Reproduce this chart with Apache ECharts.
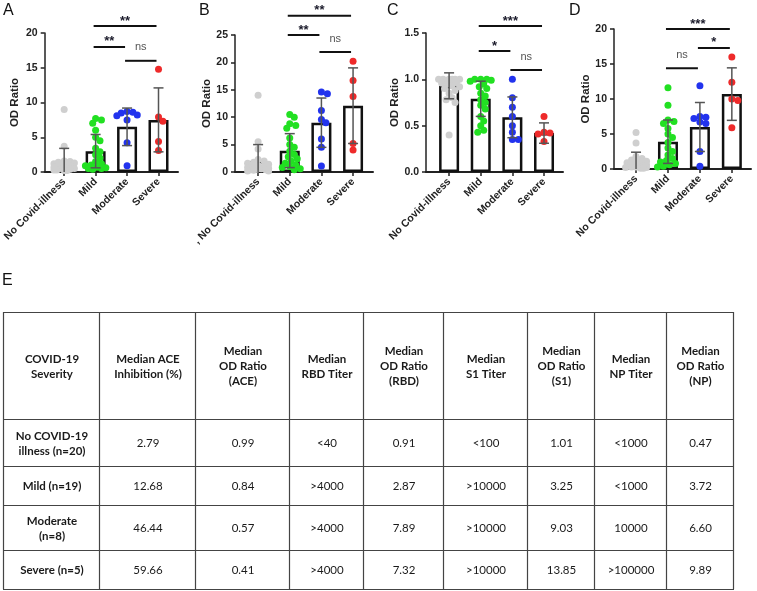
<!DOCTYPE html>
<html><head><meta charset="utf-8">
<script src="https://cdn.jsdelivr.net/npm/echarts@6/dist/echarts.min.js"></script>
<style>html,body{margin:0;padding:0;background:#fff}#c{width:757px;height:591px}</style>
</head><body><div id="c"></div>
<script>
// ---------- data ----------
const categories = ['No Covid-illness', 'Mild', 'Moderate', 'Severe'];
const categoriesB = [', No Covid-illness', 'Mild', 'Moderate', 'Severe'];
const groupColors = ['#cfcfcf', '#22e022', '#2233ee', '#ee2a2a'];

// Panel A
const A_none = [9.0, 3.7, 1.6, 1.5, 1.4, 1.3, 1.2, 1.1, 1.0, 0.9, 0.8, 0.7, 0.6, 0.5, 0.5, 0.4, 0.3, 0.3, 0.2, 0.2];
const A_mild = [7.7, 7.5, 7.0, 6.0, 5.0, 4.5, 3.4, 2.9, 2.5, 2.0, 1.5, 1.2, 1.0, 0.9, 0.7, 0.6, 0.5, 0.5, 0.4];
const A_moderate = [8.7, 8.6, 8.5, 8.2, 8.1, 7.5, 4.2, 0.9];
const A_severe = [14.8, 7.9, 7.3, 4.4, 3.1];
const A_mean = [1.5, 3.0, 6.5, 7.5];
const A_sd = [1.9, 2.4, 2.7, 4.6];
const A_sig = [[1, 3, 21.0, '**'], [1, 2, 18.0, '**'], [2, 3, 16.0, 'ns']];

// Panel B
const B_none = [14.0, 5.5, 4.2, 2.3, 2.0, 1.8, 1.6, 1.4, 1.2, 1.0, 0.9, 0.8, 0.7, 0.6, 0.5, 0.4, 0.4, 0.3, 0.2, 0.2];
const B_mild = [10.5, 10.0, 8.8, 8.5, 8.0, 6.2, 5.0, 4.5, 3.8, 3.2, 2.8, 2.4, 2.0, 1.6, 1.3, 1.0, 0.8, 0.6, 0.4];
const B_moderate = [14.6, 14.3, 11.2, 9.6, 9.0, 6.0, 4.5, 1.1];
const B_severe = [20.2, 16.7, 13.8, 5.2, 4.0];
const B_mean = [2.0, 3.9, 9.0, 12.1];
const B_sd = [3.0, 3.1, 4.5, 6.9];
const B_sig = [[1, 3, 28.5, '**'], [1, 2, 25.0, '**'], [2, 3, 21.9, 'ns']];

// Panel C
const C_none = [1.0, 1.0, 1.0, 1.0, 1.0, 1.0, 0.99, 0.98, 0.97, 0.96, 0.95, 0.93, 0.92, 0.9, 0.88, 0.85, 0.8, 0.78, 0.75, 0.4];
const C_mild = [1.0, 1.0, 1.0, 0.99, 0.98, 0.95, 0.92, 0.9, 0.85, 0.82, 0.78, 0.75, 0.72, 0.68, 0.6, 0.55, 0.5, 0.45, 0.43];
const C_moderate = [1.0, 0.8, 0.7, 0.6, 0.5, 0.43, 0.35, 0.35];
const C_severe = [0.6, 0.43, 0.42, 0.41, 0.33];
const C_mean = [0.93, 0.79, 0.59, 0.42];
const C_sd = [0.14, 0.19, 0.22, 0.11];
const C_sig = [[1, 3, 1.575, '***'], [1, 2, 1.306, '*'], [2, 3, 1.10, 'ns']];

// Panel D
const D_none = [5.2, 3.7, 1.8, 1.5, 1.3, 1.1, 1.0, 0.9, 0.8, 0.7, 0.6, 0.5, 0.4, 0.4, 0.3, 0.3, 0.2, 0.2, 0.1, 0.1];
const D_mild = [11.6, 9.1, 7.0, 6.8, 6.5, 5.8, 5.0, 4.5, 3.8, 3.0, 2.5, 2.0, 1.5, 1.2, 1.0, 0.8, 0.6, 0.4, 0.3];
const D_moderate = [11.9, 7.5, 7.4, 7.2, 6.7, 6.5, 2.5, 0.4];
const D_severe = [16.0, 12.4, 10.0, 9.8, 5.9];
const D_mean = [1.0, 3.9, 6.0, 10.7];
const D_sd = [1.4, 3.1, 3.5, 3.75];
const D_sig = [[1, 3, 20.0, '***'], [2, 3, 17.3, '*'], [1, 2, 14.4, 'ns']];

const yMaxA = 20, yMaxB = 25, yMaxC = 1.5, yMaxD = 20;
const yStepA = 5, yStepB = 5, yStepC = 0.5, yStepD = 5;

// Table E
const tableHeader = ['COVID-19\nSeverity', 'Median ACE\nInhibition (%)', 'Median\nOD Ratio\n(ACE)', 'Median\nRBD Titer',
  'Median\nOD Ratio\n(RBD)', 'Median\nS1 Titer', 'Median\nOD Ratio\n(S1)', 'Median\nNP Titer', 'Median\nOD Ratio\n(NP)'];
const tableRowLabels = ['No COVID-19\nillness (n=20)', 'Mild (n=19)', 'Moderate\n(n=8)', 'Severe (n=5)'];
const tableRows = [
  ['2.79', '0.99', '<40', '0.91', '<100', '1.01', '<1000', '0.47'],
  ['12.68', '0.84', '>4000', '2.87', '>10000', '3.25', '<1000', '3.72'],
  ['46.44', '0.57', '>4000', '7.89', '>10000', '9.03', '10000', '6.60'],
  ['59.66', '0.41', '>4000', '7.32', '>10000', '13.85', '>100000', '9.89']
];

// ---------- layout ----------
const panels = [
  { letter: 'A', lx: 3, groups: [A_none, A_mild, A_moderate, A_severe], mean: A_mean, sd: A_sd, sig: A_sig, yMax: yMaxA, yStep: yStepA, cats: categories,
    left: 41, top: 33, width: 137, height: 139, xMin: -0.62, xMax: 3.62, nameGap: 24, dec: 0 },
  { letter: 'B', lx: 199, groups: [B_none, B_mild, B_moderate, B_severe], mean: B_mean, sd: B_sd, sig: B_sig, yMax: yMaxB, yStep: yStepB, cats: categoriesB,
    left: 235, top: 35, width: 138, height: 137, xMin: -0.73, xMax: 3.63, nameGap: 22, dec: 0 },
  { letter: 'C', lx: 387, groups: [C_none, C_mild, C_moderate, C_severe], mean: C_mean, sd: C_sd, sig: C_sig, yMax: yMaxC, yStep: yStepC, cats: categories,
    left: 426, top: 33, width: 137, height: 139, xMin: -0.73, xMax: 3.6, nameGap: 25, dec: 1 },
  { letter: 'D', lx: 569, groups: [D_none, D_mild, D_moderate, D_severe], mean: D_mean, sd: D_sd, sig: D_sig, yMax: yMaxD, yStep: yStepD, cats: categories,
    left: 614, top: 29, width: 137, height: 140, xMin: -0.69, xMax: 3.6, nameGap: 21, dec: 0 }
];

// compact beeswarm offsets (pixel-based, limited width), returned in x data units
function swarm(vals, pxPerY, pxPerX) {
  const d = 5.2, step = 1.5, maxDx = 10.5;
  const cands = [0];
  for (let k = 1; k * step <= maxDx; k++) { cands.push(k * step, -k * step); }
  const order = vals.map((v, i) => i).sort((a, b) => vals[b] - vals[a]);
  const placed = [], off = new Array(vals.length);
  for (const i of order) {
    const y = vals[i] * pxPerY;
    let best = 0, bestD = -1;
    for (const dx of cands) {
      const md = placed.reduce((m, p) => Math.min(m, Math.hypot(p.x - dx, p.y - y)), Infinity);
      if (md >= d) { best = dx; bestD = md; break; }
      if (md > bestD) { bestD = md; best = dx; }
    }
    placed.push({ x: best, y: y });
    off[i] = best / pxPerX;
  }
  return off;
}

const font = 'Liberation Sans, Arial, sans-serif';
const grids = [], xAxes = [], yAxes = [], series = [], graphics = [];

panels.forEach((p, i) => {
  grids.push({ left: p.left, top: p.top, width: p.width, height: p.height });
  xAxes.push({
    type: 'value', gridIndex: i, min: p.xMin, max: p.xMax, splitLine: { show: false },
    axisLine: { show: true, onZero: false, lineStyle: { color: '#222', width: 2 } },
    axisTick: { show: true, customValues: [0, 1, 2, 3], length: 4, lineStyle: { color: '#222', width: 1.5 } },
    axisLabel: { customValues: [0, 1, 2, 3], formatter: v => p.cats[Math.round(v)], rotate: 45, fontSize: 10.5,
      fontWeight: 'bold', color: '#222', margin: 8, fontFamily: font }
  });
  yAxes.push({
    type: 'value', gridIndex: i, min: 0, max: p.yMax, interval: p.yStep, splitLine: { show: false },
    axisLine: { show: true, onZero: false, lineStyle: { color: '#222', width: 1.5 } },
    axisTick: { show: true, length: 4, lineStyle: { color: '#222', width: 1.5 } },
    axisLabel: { fontSize: 10.5, fontWeight: 'bold', color: '#222', margin: 7, fontFamily: font,
      formatter: v => v.toFixed(p.dec) },
    name: 'OD Ratio', nameLocation: 'middle', nameGap: p.nameGap,
    nameTextStyle: { fontSize: 11.5, fontWeight: 'bold', color: '#222', fontFamily: font }
  });
  // bars (means)
  series.push({
    type: 'bar', xAxisIndex: i, yAxisIndex: i, barWidth: 20, z: 2, silent: true,
    data: p.mean.map((m, k) => [k, m]),
    itemStyle: { color: '#fff', borderColor: '#111', borderWidth: 2.5 }
  });
  // scatter points
  const pxPerY = p.height / p.yMax, pxPerX = p.width / (p.xMax - p.xMin);
  p.groups.forEach((g, k) => {
    const off = swarm(g, pxPerY, pxPerX);
    series.push({
      type: 'scatter', xAxisIndex: i, yAxisIndex: i, z: 3, silent: true, symbolSize: 7,
      itemStyle: { color: groupColors[k], opacity: 1 },
      data: g.map((v, j) => [k + off[j], v])
    });
  });
  // error bars (mean ± SD)
  series.push({
    type: 'custom', xAxisIndex: i, yAxisIndex: i, z: 4, silent: true,
    data: p.mean.map((m, k) => [k, m - p.sd[k], m + p.sd[k]]),
    encode: { x: 0, y: [1, 2] },
    renderItem: (params, api) => {
      const x = api.value(0), lo = api.value(1), hi = api.value(2);
      const a = api.coord([x, Math.max(0, lo)]), b = api.coord([x, hi]);
      const ls = { stroke: '#555', lineWidth: 1.5 };
      const ch = [
        { type: 'line', shape: { x1: a[0], y1: a[1], x2: b[0], y2: b[1] }, style: ls },
        { type: 'line', shape: { x1: b[0] - 5, y1: b[1], x2: b[0] + 5, y2: b[1] }, style: ls }
      ];
      if (lo > 0) ch.push({ type: 'line', shape: { x1: a[0] - 5, y1: a[1], x2: a[0] + 5, y2: a[1] }, style: ls });
      return { type: 'group', children: ch };
    }
  });
  // significance brackets
  series.push({
    type: 'custom', xAxisIndex: i, yAxisIndex: i, z: 5, silent: true, clip: false,
    data: p.sig.map(s => [s[0], s[1], s[2]]),
    encode: { x: [0, 1], y: 2 },
    renderItem: (params, api) => {
      const s = p.sig[params.dataIndex];
      const a = api.coord([s[0], s[2]]), b = api.coord([s[1], s[2]]);
      const isNs = s[3] === 'ns';
      return { type: 'group', children: [
        { type: 'line', shape: { x1: a[0] - 2, y1: a[1], x2: b[0] - 2, y2: b[1] }, style: { stroke: '#111', lineWidth: 2 } },
        { type: 'text', style: { text: s[3], x: (a[0] + b[0]) / 2 - 2, y: a[1] - (isNs ? 8 : 5),
          align: 'center', verticalAlign: isNs ? 'bottom' : 'middle',
          fontSize: isNs ? 11 : 13, fontWeight: isNs ? 'normal' : 'bold', fill: isNs ? '#555' : '#1a1a2a', fontFamily: font } }
      ] };
    }
  });
  graphics.push({ type: 'text', left: p.lx, top: 3, style: { text: p.letter, fontSize: 16, fill: '#111', fontFamily: font } });
});

// ---------- table E ----------
const colX = [3, 99, 195, 289, 363, 443, 527, 594, 666, 733];
const rowY = [312, 419, 466, 505, 550, 589];
graphics.push({ type: 'text', left: 2, top: 273, style: { text: 'E', fontSize: 16, fill: '#111', fontFamily: font } });
const tFont = 'Lato, Carlito, sans-serif';
colX.forEach(x => graphics.push({ type: 'line', shape: { x1: x + 0.5, y1: rowY[0], x2: x + 0.5, y2: rowY[rowY.length - 1] },
  style: { stroke: '#444', lineWidth: 1.2 } }));
rowY.forEach(y => graphics.push({ type: 'line', shape: { x1: colX[0], y1: y + 0.5, x2: colX[colX.length - 1] + 1, y2: y + 0.5 },
  style: { stroke: '#444', lineWidth: 1.2 } }));
function cellText(txt, c, r, bold) {
  graphics.push({ type: 'text', style: { text: txt, x: (colX[c] + colX[c + 1]) / 2 + 1, y: (rowY[r] + rowY[r + 1]) / 2 + 1,
    align: 'center', verticalAlign: 'middle', fontSize: 11.5, lineHeight: 15, fontWeight: bold ? 'bold' : 'normal',
    fill: '#1a1a1a', fontFamily: tFont } });
}
tableHeader.forEach((h, c) => cellText(h, c, 0, true));
tableRowLabels.forEach((l, r) => cellText(l, 0, r + 1, true));
tableRows.forEach((row, r) => row.forEach((v, c) => cellText(v, c + 1, r + 1, false)));

const chart = echarts.init(document.getElementById('c'), null, { renderer: 'canvas' });
chart.setOption({
  animation: false, backgroundColor: '#fff',
  grid: grids, xAxis: xAxes, yAxis: yAxes, series: series, graphic: graphics
});
</script></body></html>
